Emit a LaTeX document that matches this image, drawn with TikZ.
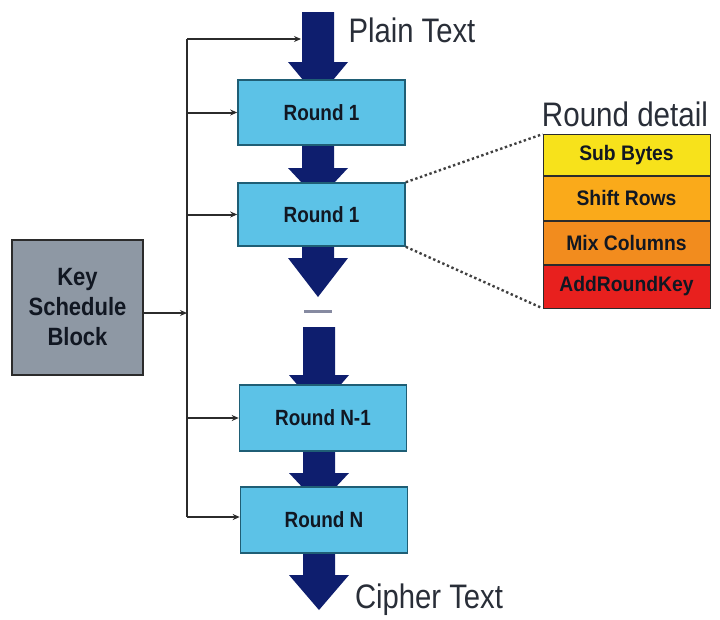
\documentclass[tikz,border=0pt]{standalone}
\usepackage{fontspec}
\setmainfont{Liberation Sans}
\usetikzlibrary{arrows.meta}
\definecolor{navy}{HTML}{0E1E6E}
\definecolor{rfill}{HTML}{5CC2E7}
\definecolor{rline}{HTML}{1F5E75}
\definecolor{kfill}{HTML}{8E98A4}
\definecolor{kline}{HTML}{2B2B2B}
\definecolor{cyel}{HTML}{F7E21B}
\definecolor{cory}{HTML}{FAAA1A}
\definecolor{corg}{HTML}{F28C1E}
\definecolor{cred}{HTML}{E8201E}
\definecolor{txt}{HTML}{111722}
\newcommand{\hsq}[2]{\scalebox{#1}[1]{#2}}
\newcommand{\bigarrow}[4]{% center x, top y, head start y, tip y
  \fill[navy] (#1-16,#2) -- (#1+16,#2) -- (#1+16,#3) -- (#1+30,#3) -- (#1,#4) -- (#1-30,#3) -- (#1-16,#3) -- cycle;}
\tikzset{
  roundbox/.style={draw=rline, line width=1.6pt, fill=rfill, minimum width=167pt, minimum height=65pt, inner sep=0pt, text=txt, font=\fontsize{22}{22}\selectfont\bfseries},
  detailbox/.style={draw=kline, line width=0.8pt, minimum width=167pt, inner sep=0pt, text=txt, font=\fontsize{21}{21}\selectfont\bfseries},
  keybox/.style={draw=kline, line width=1.8pt, fill=kfill, minimum width=131pt, minimum height=135pt, inner sep=0pt, text=txt, align=center, font=\fontsize{25}{30}\selectfont\bfseries},
  biglabel/.style={text=txt!90, inner sep=0pt, font=\fontsize{34}{34}\selectfont},
  conn/.style={draw=kline, line width=2pt},
  connarrow/.style={conn, -{Stealth[length=7pt,width=6pt]}},
  dotline/.style={draw=kline!90, line width=2.4pt, dash pattern=on 2.4pt off 2.6pt}
}
\begin{document}
\begin{tikzpicture}[x=1pt,y=-1pt]
\useasboundingbox (0,0) rectangle (720,619);
% big flow arrows
\bigarrow{318}{12}{62}{98}
\bigarrow{318}{145}{168}{200}
\bigarrow{318}{246}{258}{297}
\bigarrow{319}{327}{375}{410}
\bigarrow{319}{451}{473}{505}
\bigarrow{319}{553}{575}{610}
% ellipsis mark
\draw[draw=navy!40!gray!70, line width=3pt] (304,311) -- (332,311);
% round boxes
\node[roundbox] (r1) at (321.5,112.5) {\hsq{0.86}{Round 1}};
\node[roundbox, minimum height=63pt] (r2) at (321.5,214.5) {\hsq{0.86}{Round 1}};
\node[roundbox, minimum height=66pt] (rn1) at (323,418) {\hsq{0.86}{Round N-1}};
\node[roundbox, minimum height=66pt] (rn) at (324,520) {\hsq{0.86}{Round N}};
% key schedule
\node[keybox] (key) at (77.5,307.5) {\hsq{0.88}{Key}\\\hsq{0.88}{Schedule}\\\hsq{0.88}{Block}};
% labels
\node[biglabel] (pt) at (412,30) {\hsq{0.86}{Plain Text}};
\node[biglabel] (ct) at (429,600) {\hsq{0.86}{Cipher Text}};
\node[biglabel] (rd) at (625,114) {\hsq{0.87}{Round detail}};
% round detail
\node[detailbox, fill=cyel, minimum height=41pt] (sb) at (626.5,155) {\hsq{0.92}{Sub Bytes}};
\node[detailbox, fill=cory, minimum height=44pt, anchor=north] (sr) at (sb.south) {\hsq{0.92}{Shift Rows}};
\node[detailbox, fill=corg, minimum height=43pt, anchor=north] (mc) at (sr.south) {\hsq{0.92}{Mix Columns}};
\node[detailbox, fill=cred, minimum height=43pt, anchor=north] (ark) at (mc.south) {\hsq{0.92}{AddRoundKey}};
% dotted zoom lines
\draw[dotline] (r2.north east) -- (sb.north west);
\draw[dotline] (r2.south east) -- (ark.south west);
% key distribution bus
\coordinate (bt) at (187,39);
\coordinate (bb) at (187,517);
\coordinate (ptin) at (301,39);
\coordinate (kb) at (187,313);
\draw[conn] (bt) -- (bb);
\draw[connarrow] (key.east |- kb) -- (kb);
\draw[connarrow] (bt) -- (ptin);
\draw[connarrow] (bt |- r1.west) -- (r1.west);
\draw[connarrow] (bt |- r2.west) -- (r2.west);
\draw[connarrow] (bt |- rn1.west) -- (rn1.west);
\draw[connarrow] (bb) -- (bb -| rn.west);
\end{tikzpicture}
\end{document}
